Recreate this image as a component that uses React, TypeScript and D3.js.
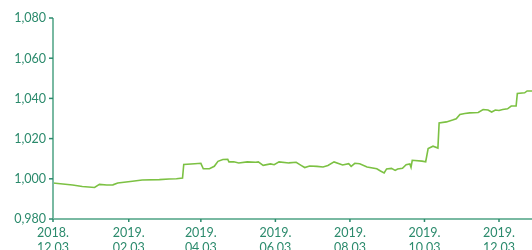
import React from 'react';
import * as d3 from 'd3';

// date / value pairs
const dates = [
  '2018-12-03', '2018-12-19', '2018-12-27', '2019-01-06', '2019-01-10', '2019-01-16',
  '2019-01-21', '2019-01-25', '2019-02-06', '2019-02-14', '2019-02-28', '2019-03-08',
  '2019-03-14', '2019-03-19', '2019-03-20', '2019-03-29', '2019-04-03', '2019-04-05',
  '2019-04-10', '2019-04-14', '2019-04-17', '2019-04-21', '2019-04-25', '2019-04-26',
  '2019-04-30', '2019-05-04', '2019-05-11', '2019-05-18', '2019-05-20', '2019-05-24',
  '2019-05-30', '2019-06-02', '2019-06-06', '2019-06-14', '2019-06-20', '2019-06-24',
  '2019-06-27', '2019-07-01', '2019-07-07', '2019-07-12', '2019-07-16', '2019-07-21',
  '2019-07-28', '2019-08-02', '2019-08-04', '2019-08-07', '2019-08-11', '2019-08-17',
  '2019-08-25', '2019-08-28', '2019-08-31', '2019-09-02', '2019-09-06', '2019-09-09',
  '2019-09-11', '2019-09-15', '2019-09-18', '2019-09-21', '2019-09-22', '2019-09-23',
  '2019-10-01', '2019-10-04', '2019-10-06', '2019-10-10', '2019-10-14', '2019-10-15',
  '2019-10-21', '2019-10-26', '2019-10-29', '2019-11-01', '2019-11-05', '2019-11-09',
  '2019-11-16', '2019-11-20', '2019-11-24', '2019-11-27', '2019-11-30', '2019-12-03',
  '2019-12-06', '2019-12-10', '2019-12-13', '2019-12-17', '2019-12-18', '2019-12-24',
  '2019-12-26', '2019-12-30',
];
const values = [
  0.9979, 0.9969, 0.9962, 0.9957, 0.9972, 0.9969,
  0.997, 0.9979, 0.9988, 0.9994, 0.9996, 0.9999,
  1.0, 1.0004, 1.0071, 1.0075, 1.0077, 1.005,
  1.005, 1.0062, 1.0087, 1.0096, 1.0097, 1.0084,
  1.0085, 1.0079, 1.0084, 1.0082, 1.0084, 1.0067,
  1.0074, 1.007, 1.0084, 1.0079, 1.0082, 1.0067,
  1.0056, 1.0064, 1.0062, 1.0059, 1.0066, 1.0084,
  1.0069, 1.0075, 1.0062, 1.0077, 1.0075, 1.0059,
  1.005, 1.0039, 1.0029, 1.0049, 1.0052, 1.0042,
  1.0049, 1.0052, 1.007, 1.0074, 1.0057, 1.0092,
  1.0088, 1.0085, 1.015, 1.0162, 1.0153, 1.0278,
  1.0283, 1.0292, 1.0299, 1.032, 1.0325, 1.0328,
  1.033, 1.0345, 1.0342, 1.0332, 1.0342, 1.034,
  1.0345, 1.0348, 1.0362, 1.0362, 1.0425, 1.0428,
  1.0437, 1.0437,
];
const yTicks = [0.98, 1.0, 1.02, 1.04, 1.06, 1.08];
const xTicks = ['2018-12-03', '2019-02-03', '2019-04-03', '2019-06-03', '2019-08-03', '2019-10-03', '2019-12-03'];

const parse = d3.timeParse('%Y-%m-%d');
const green = '#2b8a6c';
const axisColor = '#79b9a2';
const font = 'Lato, "Open Sans", sans-serif';

export default function App() {
  const width = 532;
  const height = 250;
  const left = 53;
  const top = 18;
  const bottom = 219;

  const data = dates.map((d, i) => ({ date: parse(d) as Date, value: values[i] }));

  const x = d3.scaleTime()
    .domain([parse('2018-12-03') as Date, parse('2019-12-30') as Date])
    .range([left, 532]);
  const y = d3.scaleLinear().domain([0.98, 1.08]).range([bottom, top]);

  const line = d3.line<{ date: Date; value: number }>()
    .x(d => x(d.date))
    .y(d => y(d.value));

  const fmtY = (v: number) => d3.format('.3f')(v).replace('.', ',');
  const fmtA = d3.timeFormat('%Y.');
  const fmtB = d3.timeFormat('%m.%d');

  return (
    <svg width={width} height={height} style={{ position: 'fixed', left: 0, top: 0 }}>
      <path d={line(data) || ''} fill="none" stroke="#7cc143" strokeWidth={1.6} />
      <line x1={left} x2={width} y1={bottom} y2={bottom} stroke={axisColor} strokeWidth={2} />
      <line x1={left} x2={left} y1={top} y2={bottom} stroke={axisColor} strokeWidth={2} />
      {yTicks.map(t => (
        <g key={t}>
          <line x1={left - 4} x2={left} y1={y(t)} y2={y(t)} stroke={green} strokeWidth={1.5} />
          <text x={left - 7} y={y(t)} dy="0.35em" textAnchor="end" fill={green}
            fontFamily={font} fontSize={12.5}>{fmtY(t)}</text>
        </g>
      ))}
      {xTicks.map(s => {
        const d = parse(s) as Date;
        return (
          <g key={s}>
            <line x1={x(d)} x2={x(d)} y1={bottom} y2={bottom + 3} stroke={green} strokeWidth={1.5} />
            <text x={x(d)} y={237} textAnchor="middle" fill={green} fontFamily={font} fontSize={12.5}>
              <tspan x={x(d)}>{fmtA(d)}</tspan>
              <tspan x={x(d)} dy={14.5}>{fmtB(d)}</tspan>
            </text>
          </g>
        );
      })}
    </svg>
  );
}
